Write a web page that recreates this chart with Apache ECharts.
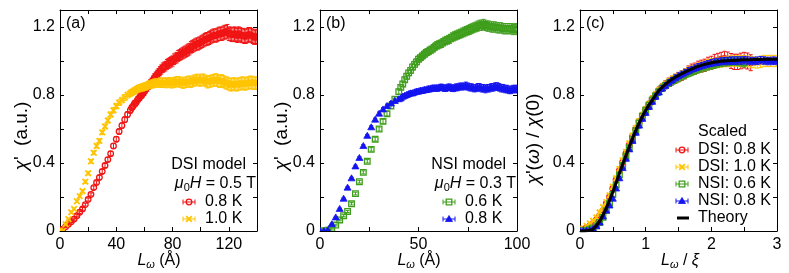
<!DOCTYPE html>
<html><head><meta charset="utf-8">
<script src="https://cdn.jsdelivr.net/npm/echarts@6/dist/echarts.min.js"></script>
<style>html,body{margin:0;padding:0;background:#fff}#c{width:789px;height:273px}</style>
</head><body><div id="c"></div>
<script>
// ---------- Panel (a): DSI model, mu0H = 0.5 T ----------
const aX = [0,2,4,6,8,10,12,14,16,18,20,22,24,26,28,30,32,34,36,38,40,42,44,46,48,50,
  51,52,53,54,55,56,57,58,59,60,61,62,63,64,65,66,67,68,69,70,71,72,73,74,75,76,77,78,79,80,
  81,82,83,84,85,86,87,88,89,90,91,92,93,94,95,96,97,98,99,100,101,102,103,104,105,106,107,108,109,110,
  111,112,113,114,115,116,117,118,119,120,121,122,123,124,125,126,127,128,129,130,131,132,133,134,135,136,137,138,139,140];
const aRed = [0,0.01,0.025,0.04,0.055,0.07,0.09,0.11,0.13,0.155,0.185,0.215,0.255,0.285,0.315,0.35,0.385,0.42,0.455,0.50,0.54,0.585,0.62,0.655,0.685,0.71,
  0.725,0.735,0.75,0.755,0.77,0.78,0.79,0.80,0.81,0.82, 0.835,0.845,0.855,0.865,0.875,0.885,0.9,0.91,0.92,0.93,
  0.94,0.95,0.96,0.965,0.97,0.98,0.985,0.99,0.995,1.0, 1.01,1.015,1.02,1.03,1.035,1.04,1.045,1.05,1.055,1.06,
  1.065,1.07,1.08,1.085,1.09,1.095,1.1,1.1,1.105,1.11, 1.115,1.12,1.125,1.13,1.13,1.135,1.14,1.145,1.15,1.15,
  1.15,1.155,1.16,1.16,1.16,1.165,1.17,1.17,1.175,1.16, 1.16,1.155,1.155,1.16,1.155,1.15,1.16,1.155,1.15,1.15,
  1.145,1.145,1.15,1.155,1.155,1.15,1.145,1.14,1.14,1.145];
const aRedErr = [0,0.004,0.004,0.005,0.005,0.006,0.006,0.007,0.008,0.008,0.009,0.009,0.01,0.01,0.011,0.012,0.012,0.013,0.013,0.014,0.015,0.015,0.016,0.017,0.017,0.018,
  0.018,0.019,0.019,0.02,0.02,0.02,0.021,0.021,0.022,0.022, 0.022,0.023,0.023,0.024,0.024,0.025,0.025,0.025,0.026,0.026,
  0.027,0.027,0.028,0.028,0.028,0.029,0.029,0.03,0.03,0.03, 0.031,0.031,0.031,0.032,0.032,0.032,0.033,0.033,0.033,0.034,
  0.034,0.034,0.034,0.035,0.035,0.035,0.035,0.036,0.036,0.036, 0.036,0.037,0.037,0.037,0.037,0.038,0.038,0.038,0.038,0.038,
  0.039,0.039,0.039,0.039,0.039,0.04,0.04,0.04,0.04,0.04, 0.04,0.04,0.041,0.041,0.041,0.041,0.041,0.041,0.042,0.042,
  0.042,0.042,0.042,0.042,0.042,0.042,0.042,0.042,0.042,0.042];
const aYel = [0,0,0.04,0.07,0.11,0.13,0.175,0.205,0.235,0.29,0.34,0.41,0.46,0.50,0.53,0.58,0.615,0.65,0.685,0.71,0.735,0.755,0.77,0.785,0.80,0.81,
  0.815,0.82,0.825,0.83,0.835,0.84,0.84,0.845,0.845,0.85, 0.85,0.855,0.86,0.86,0.865,0.865,0.87,0.87,0.87,0.87,
  0.875,0.87,0.87,0.875,0.87,0.87,0.875,0.875,0.87,0.87, 0.875,0.875,0.88,0.88,0.875,0.875,0.87,0.87,0.875,0.875,
  0.88,0.88,0.875,0.88,0.885,0.885,0.89,0.89,0.885,0.885, 0.89,0.89,0.885,0.88,0.875,0.88,0.88,0.885,0.885,0.89,
  0.89,0.885,0.88,0.88,0.885,0.88,0.875,0.87,0.87,0.865, 0.86,0.86,0.865,0.865,0.86,0.86,0.865,0.865,0.87,0.87,
  0.865,0.865,0.87,0.87,0.875,0.875,0.87,0.87,0.87,0.87];
const aYelErr = [0,0.003,0.004,0.005,0.006,0.006,0.007,0.008,0.008,0.009,0.01,0.011,0.011,0.012,0.013,0.013,0.014,0.015,0.015,0.016,0.016,0.017,0.017,0.018,0.018,0.019,
  0.019,0.019,0.02,0.02,0.02,0.021,0.021,0.021,0.022,0.022, 0.022,0.023,0.023,0.023,0.024,0.024,0.024,0.025,0.025,0.025,
  0.026,0.026,0.026,0.027,0.027,0.027,0.028,0.028,0.028,0.028, 0.029,0.029,0.029,0.029,0.03,0.03,0.03,0.03,0.031,0.031,
  0.031,0.031,0.031,0.032,0.032,0.032,0.032,0.032,0.033,0.033, 0.033,0.033,0.033,0.033,0.034,0.034,0.034,0.034,0.034,0.034,
  0.035,0.035,0.035,0.035,0.035,0.035,0.035,0.035,0.036,0.036, 0.036,0.036,0.036,0.036,0.036,0.036,0.036,0.036,0.036,0.036,
  0.036,0.036,0.036,0.036,0.036,0.036,0.036,0.036,0.036,0.036];

// ---------- Panel (b): NSI model, mu0H = 0.3 T ----------
const bX = [0,2,4,6,8,10,12,14,16,18,20,22,24,26,28,30,32,34,36,38,40,
  41,42,43,44,45,46,47,48,49,50,51,52,53,54,55,56,57,58,59,60,61,62,63,64,65,66,67,68,69,70,
  71,72,73,74,75,76,77,78,79,80,81,82,83,84,85,86,87,88,89,90,91,92,93,94,95,96,97,98,99,100];
const bGrn = [0,0,0.005,0.015,0.035,0.065,0.09,0.115,0.16,0.22,0.29,0.345,0.41,0.48,0.54,0.60,0.645,0.69,0.735,0.775,0.82,
  0.845,0.865,0.89,0.91,0.93,0.945,0.965,0.98,0.995,1.01, 1.02,1.03,1.04,1.05,1.055,1.065,1.07,1.08,1.09,1.095,
  1.1,1.105,1.115,1.12,1.125,1.13,1.14,1.145,1.15,1.155, 1.16,1.165,1.17,1.175,1.18,1.185,1.19,1.195,1.2,1.205,
  1.21,1.21,1.215,1.21,1.205,1.205,1.2,1.2,1.2,1.195, 1.195,1.195,1.19,1.19,1.19,1.19,1.19,1.185,1.19,1.185];
const bGrnErr = [0,0.003,0.004,0.004,0.005,0.005,0.006,0.006,0.007,0.008,0.008,0.009,0.01,0.01,0.011,0.012,0.012,0.013,0.014,0.014,0.015,
  0.015,0.016,0.016,0.017,0.017,0.018,0.018,0.019,0.019,0.02, 0.02,0.021,0.021,0.022,0.022,0.022,0.023,0.023,0.024,0.024,
  0.024,0.025,0.025,0.025,0.026,0.026,0.026,0.027,0.027,0.027, 0.027,0.028,0.028,0.028,0.028,0.029,0.029,0.029,0.029,0.03,
  0.03,0.03,0.03,0.03,0.03,0.03,0.03,0.03,0.03,0.03, 0.03,0.03,0.03,0.03,0.03,0.03,0.03,0.03,0.03,0.03];
const bBlu = [0,0,0.005,0.04,0.08,0.13,0.19,0.255,0.31,0.38,0.43,0.50,0.56,0.61,0.655,0.69,0.715,0.735,0.75,0.765,0.775,
  0.78,0.79,0.795,0.80,0.805,0.81,0.81,0.815,0.82,0.82, 0.825,0.825,0.83,0.83,0.835,0.835,0.84,0.84,0.84,0.84,
  0.845,0.845,0.84,0.84,0.845,0.845,0.84,0.84,0.845,0.845, 0.85,0.85,0.85,0.855,0.85,0.845,0.845,0.84,0.84,0.845,
  0.845,0.84,0.84,0.835,0.84,0.84,0.845,0.845,0.85,0.85, 0.845,0.84,0.84,0.835,0.835,0.83,0.83,0.835,0.835,0.835];
const bBluErr = [0,0.003,0.003,0.004,0.004,0.005,0.005,0.006,0.006,0.007,0.007,0.008,0.008,0.009,0.009,0.01,0.01,0.011,0.011,0.012,0.012,
  0.012,0.013,0.013,0.013,0.014,0.014,0.014,0.015,0.015,0.015, 0.016,0.016,0.016,0.016,0.017,0.017,0.017,0.017,0.018,0.018,
  0.018,0.018,0.019,0.019,0.019,0.019,0.019,0.02,0.02,0.02, 0.02,0.02,0.02,0.021,0.021,0.021,0.021,0.021,0.021,0.022,
  0.022,0.022,0.022,0.022,0.022,0.022,0.022,0.022,0.022,0.022, 0.022,0.022,0.022,0.022,0.022,0.022,0.022,0.022,0.022,0.022];

// ---------- Panel (c): scaled data + theory ----------
const cX = [0,0.05,0.1,0.15,0.2,0.25,0.3,0.35,0.4,0.45,0.5,0.55,0.6,0.65,0.7,0.75,0.8,0.85,0.9,0.95,
  1.0,1.05,1.1,1.15,1.2,1.25,1.3,1.35,1.4,1.45,1.5,1.55,1.6,1.65,1.7,1.75,1.8,1.85,1.9,1.95,
  2.0,2.05,2.1,2.15,2.2,2.25,2.3,2.35,2.4,2.45,2.5,2.55,2.6,2.65,2.7,2.75,2.8,2.85,2.9,2.95,3.0];
const cRed = [0,0.01,0.02,0.03,0.045,0.065,0.09,0.12,0.16,0.2, 0.25,0.3,0.355,0.405,0.455,0.505,0.555,0.6,0.645,0.68,
  0.715,0.745,0.775,0.8,0.825,0.845,0.86,0.875,0.885,0.895, 0.905,0.915,0.925,0.94,0.95,0.955,0.965,0.97,0.975,0.985,
  0.99,1.0,1.005,1.01,1.015,1.01,1.0,0.995,0.995,1.0, 1.005,1.0,0.99,null,null,null,null,null,null,null,null];
const cRedErr = [0,0.003,0.004,0.005,0.006,0.007,0.008,0.009,0.01,0.011, 0.012,0.012,0.013,0.014,0.014,0.015,0.016,0.016,0.017,0.018,
  0.018,0.019,0.02,0.021,0.022,0.023,0.024,0.025,0.026,0.027, 0.028,0.029,0.03,0.031,0.032,0.033,0.034,0.035,0.036,0.037,
  0.038,0.039,0.04,0.041,0.042,0.043,0.044,0.045,0.045,0.046, 0.046,0.047,0.047,null,null,null,null,null,null,null,null];
const cYel = [0,0.015,0.03,0.045,0.06,0.08,0.11,0.14,0.17,0.21, 0.26,0.31,0.365,0.415,0.465,0.515,0.56,0.605,0.645,0.68,
  0.715,0.745,0.775,0.8,0.825,0.845,0.86,0.875,0.89,0.9, 0.91,0.92,0.93,0.94,0.948,0.955,0.962,0.968,0.975,0.98,
  0.985,0.988,0.99,0.993,0.995,0.998,1.0,1.0,1.0,1.0, 1.0,0.998,0.995,0.992,0.99,0.995,1.0,1.0,1.0,1.0, 1.0];
const cYelErr = [0,0.003,0.004,0.005,0.006,0.007,0.008,0.009,0.01,0.011, 0.012,0.013,0.013,0.014,0.015,0.015,0.016,0.017,0.017,0.018,
  0.018,0.019,0.019,0.02,0.02,0.021,0.021,0.022,0.022,0.023, 0.023,0.024,0.024,0.025,0.025,0.026,0.026,0.027,0.027,0.028,
  0.028,0.028,0.029,0.029,0.029,0.03,0.03,0.03,0.031,0.031, 0.031,0.032,0.032,0.032,0.032,0.033,0.033,0.033,0.033,0.033, 0.033];
const cGrn = [0,0.002,0.005,0.01,0.018,0.03,0.05,0.08,0.12,0.165, 0.215,0.27,0.33,0.385,0.44,0.49,0.54,0.59,0.635,0.675,
  0.71,0.74,0.77,0.795,0.82,0.84,0.855,0.868,0.88,0.89, 0.9,0.91,0.92,0.928,0.936,0.944,0.952,0.958,0.964,0.97,
  0.975,0.98,0.985,0.99,0.993,0.996,0.998,1.0,0.998,0.995, 0.99,null,null,null,null,null,null,null,null,null,null];
const cGrnErr = [0,0.002,0.003,0.004,0.005,0.006,0.007,0.008,0.009,0.01, 0.011,0.011,0.012,0.012,0.013,0.013,0.014,0.014,0.015,0.015,
  0.016,0.016,0.017,0.017,0.018,0.018,0.019,0.019,0.02,0.02, 0.02,0.021,0.021,0.021,0.022,0.022,0.022,0.023,0.023,0.023,
  0.023,0.024,0.024,0.024,0.024,0.025,0.025,0.025,0.025,0.025, 0.025,null,null,null,null,null,null,null,null,null,null];
const cBlu = [0,0,0.002,0.005,0.012,0.028,0.05,0.085,0.12,0.15, 0.19,0.25,0.31,0.37,0.425,0.48,0.53,0.578,0.62,0.66,
  0.695,0.73,0.76,0.79,0.815,0.838,0.855,0.872,0.886,0.9, 0.912,0.922,0.932,0.942,0.95,0.958,0.965,0.972,0.978,0.983,
  0.988,0.992,0.995,0.998,1.0,1.0,1.002,1.002,1.003,1.003, 1.005,1.003,1.0,1.0,1.002,1.005,1.003,1.0,1.0,1.002, 1.0];
const cBluErr = [0,0.002,0.003,0.004,0.005,0.006,0.007,0.007,0.008,0.009, 0.01,0.01,0.011,0.011,0.012,0.012,0.013,0.013,0.014,0.014,
  0.015,0.015,0.015,0.016,0.016,0.016,0.017,0.017,0.017,0.018, 0.018,0.018,0.019,0.019,0.019,0.019,0.02,0.02,0.02,0.02,
  0.021,0.021,0.021,0.021,0.021,0.022,0.022,0.022,0.022,0.022, 0.022,0.022,0.022,0.022,0.022,0.022,0.022,0.022,0.022,0.022, 0.022];
const thX = [0,0.1,0.2,0.3,0.4,0.5,0.6,0.7,0.8,0.9,1.0,1.1,1.2,1.3,1.4,1.5,1.6,1.7,1.8,1.9,2.0,2.1,2.2,2.3,2.4,2.5,2.6,2.7,2.8,2.9,3.0];
const thY = [0,0.001,0.012,0.058,0.135,0.23,0.34,0.444,0.545,0.635,0.71,0.77,0.825,0.862,0.892,0.915,0.935,0.952,0.968,0.98,0.99,0.996,1.0,1.003,1.005,1.007,1.008,1.009,1.01,1.01,1.01];

// ---------- tick labels ----------
const yTickLabels = ['0','0.4','0.8','1.2'];
const aTickLabels = ['0','40','80','120'];
const bTickLabels = ['0','50','100'];
const cTickLabels = ['0','1','2','3'];

// ---------- styling ----------
const FONT = 'Liberation Sans';
const FS = 16;
const RED = '#f01414', YEL = '#ffc400', GRN = '#3f9e1c', BLU = '#1414f0';

function rt(extra){ return Object.assign({fontFamily:FONT, fontSize:FS, fill:'#000', color:'#000', lineHeight:19}, extra); }
const rich = {
  n: rt({}),
  i: rt({fontStyle:'italic'}),
  s: rt({fontSize:11, verticalAlign:'bottom', lineHeight:11}),
  si: rt({fontSize:11, fontStyle:'italic', verticalAlign:'bottom', lineHeight:11}),
  N: rt({fontSize:19, lineHeight:22}),
  I: rt({fontSize:19, lineHeight:22, fontStyle:'italic'})
};

function markerEls(kind, cx, cy, color){
  const s = {stroke:color, lineWidth:1.3, fill:'none'};
  const r = 2.8;
  if (kind==='circle') return [{type:'circle', shape:{cx, cy, r}, style:s}];
  if (kind==='cross') return [
    {type:'line', shape:{x1:cx-r,y1:cy-r,x2:cx+r,y2:cy+r}, style:{stroke:color,lineWidth:1.8}},
    {type:'line', shape:{x1:cx-r,y1:cy+r,x2:cx+r,y2:cy-r}, style:{stroke:color,lineWidth:1.8}}];
  if (kind==='square') return [{type:'rect', shape:{x:cx-r,y:cy-r,width:2*r,height:2*r}, style:s}];
  if (kind==='tri') return [{type:'polygon', shape:{points:[[cx,cy-3.5],[cx-3.5,cy+2.5],[cx+3.5,cy+2.5]]}, style:{fill:color, stroke:color, lineWidth:0.8}}];
  return [];
}

function errSeries(name, ai, xs, ys, es, color, kind){
  const data = [];
  xs.forEach((x,i)=>{ if (ys[i]!=null) data.push([x, ys[i], es[i]]); });
  return {
    type:'custom', name, xAxisIndex:ai, yAxisIndex:ai, data, clip:true,
    encode:{x:0, y:1},
    renderItem(params, api){
      const x = api.value(0), y = api.value(1), e = api.value(2);
      const p = api.coord([x,y]);
      const t = api.coord([x,y+e]);
      const b = api.coord([x,y-e]);
      const ls = {stroke:color, lineWidth:1};
      const children = [
        {type:'line', shape:{x1:p[0],y1:t[1],x2:p[0],y2:b[1]}, style:ls},
        {type:'line', shape:{x1:p[0]-2,y1:t[1],x2:p[0]+2,y2:t[1]}, style:ls},
        {type:'line', shape:{x1:p[0]-2,y1:b[1],x2:p[0]+2,y2:b[1]}, style:ls}
      ].concat(markerEls(kind, p[0], p[1], color));
      return {type:'group', children};
    }
  };
}

const grids = [
  {left:60, top:10, width:197, height:221},
  {left:320, top:10, width:197, height:221},
  {left:580, top:10, width:197, height:221}
].map(g=>Object.assign(g,{containLabel:false, outerBoundsMode:'none'}));

const axLine = {show:true, onZero:false, lineStyle:{color:'#000', width:1}};
const axTick = {show:true, inside:true, length:4, lineStyle:{color:'#000', width:1}};
const lblBase = {color:'#000', fontFamily:FONT, fontSize:FS, showMinLabel:true, showMaxLabel:true, hideOverlap:false};

function pick(labels){ return v => { const s = String(Math.round(v*1000)/1000); return labels.indexOf(s)>=0 ? s : ''; }; }

function xPair(gi, max, interval, labels){
  return [
    {gridIndex:gi, type:'value', min:0, max, interval, position:'bottom', axisLine:axLine, axisTick:axTick, splitLine:{show:false},
     axisLabel:Object.assign({margin:6, formatter:pick(labels)}, lblBase)},
    {gridIndex:gi, type:'value', min:0, max, interval, position:'top', axisLine:axLine, axisTick:axTick, splitLine:{show:false}, axisLabel:{show:false}}
  ];
}
function yPair(gi){
  return [
    {gridIndex:gi, type:'value', min:0, max:1.3, interval:0.2, position:'left', axisLine:axLine, axisTick:axTick, splitLine:{show:false},
     axisLabel:Object.assign({margin:5, formatter:pick(yTickLabels)}, lblBase)},
    {gridIndex:gi, type:'value', min:0, max:1.3, interval:0.2, position:'right', axisLine:axLine, axisTick:axTick, splitLine:{show:false}, axisLabel:{show:false}}
  ];
}

const xAxes = [].concat(xPair(0,140,20,aTickLabels), xPair(1,100,25,bTickLabels), xPair(2,3,0.5,cTickLabels));
const yAxes = [].concat(yPair(0), yPair(1), yPair(2));

const series = [
  errSeries('DSI 0.8 K', 0, aX, aRed, aRedErr, RED, 'circle'),
  errSeries('DSI 1.0 K', 0, aX, aYel, aYelErr, YEL, 'cross'),
  errSeries('NSI 0.6 K', 2, bX, bGrn, bGrnErr, GRN, 'square'),
  errSeries('NSI 0.8 K', 2, bX, bBlu, bBluErr, BLU, 'tri'),
  errSeries('DSI: 0.8 K', 4, cX, cRed, cRedErr, RED, 'circle'),
  errSeries('DSI: 1.0 K', 4, cX, cYel, cYelErr, YEL, 'cross'),
  errSeries('NSI: 0.6 K', 4, cX, cGrn, cGrnErr, GRN, 'square'),
  errSeries('NSI: 0.8 K', 4, cX, cBlu, cBluErr, BLU, 'tri'),
  {type:'line', name:'Theory', xAxisIndex:4, yAxisIndex:4, data:thX.map((x,i)=>[x,thY[i]]), smooth:0.3, symbol:'none',
   lineStyle:{color:'#000', width:3}, z:10, silent:true}
];

// ---------- graphic texts and legend samples ----------
function txt(x, y, text, align, rot){
  return {type:'text', x, y, rotation:rot||0, z:100, silent:true,
    style:{text, rich, fontFamily:FONT, fontSize:FS, fill:'#000', align, textAlign:align, verticalAlign:'middle', textVerticalAlign:'middle'}};
}
function icon(kind, cx, cy, color){
  const ls = {stroke:color, lineWidth:1};
  const els = [
    {type:'line', shape:{x1:cx-6,y1:cy,x2:cx+6,y2:cy}, style:ls},
    {type:'line', shape:{x1:cx-6,y1:cy-2.5,x2:cx-6,y2:cy+2.5}, style:ls},
    {type:'line', shape:{x1:cx+6,y1:cy-2.5,x2:cx+6,y2:cy+2.5}, style:ls}
  ].concat(markerEls(kind, cx, cy, color));
  return {type:'group', silent:true, z:100, children:els};
}

const yName = '{I|χ}{N|\'  (a.u.)}';
const xName = '{i|L}{si|ω}{n| (Å)}';
const graphic = [
  txt(66, 24, '{n|(a)}', 'left'),
  txt(326, 24, '{n|(b)}', 'left'),
  txt(586, 24, '{n|(c)}', 'left'),
  txt(22, 136, yName, 'center', Math.PI/2),
  txt(282, 136, yName, 'center', Math.PI/2),
  txt(534, 139, '{I|χ}{N|\'(}{I|ω}{N|) / }{I|χ}{N|(0)}', 'center', Math.PI/2),
  txt(159, 261, xName, 'center'),
  txt(419, 261, xName, 'center'),
  txt(680, 261, '{i|L}{si|ω}{n| / }{i|ξ}', 'center'),
  // legend (a)
  txt(246, 165, '{n|DSI model}', 'right'),
  txt(256, 184, '{i|μ}{s|0}{i|H}{n| = 0.5 T}', 'right'),
  icon('circle', 189, 202, RED), txt(205, 202, '{n|0.8 K}', 'left'),
  icon('cross', 189, 219, YEL), txt(205, 219, '{n|1.0 K}', 'left'),
  // legend (b)
  txt(506, 165, '{n|NSI model}', 'right'),
  txt(516, 184, '{i|μ}{s|0}{i|H}{n| = 0.3 T}', 'right'),
  icon('square', 449, 202, GRN), txt(465, 202, '{n|0.6 K}', 'left'),
  icon('tri', 449, 219, BLU), txt(465, 219, '{n|0.8 K}', 'left'),
  // legend (c)
  txt(698, 132, '{n|Scaled}', 'left'),
  icon('circle', 682, 150, RED), txt(698, 150, '{n|DSI: 0.8 K}', 'left'),
  icon('cross', 682, 167, YEL), txt(698, 167, '{n|DSI: 1.0 K}', 'left'),
  icon('square', 682, 184, GRN), txt(698, 184, '{n|NSI: 0.6 K}', 'left'),
  icon('tri', 682, 201, BLU), txt(698, 201, '{n|NSI: 0.8 K}', 'left'),
  {type:'line', z:100, silent:true, shape:{x1:677,y1:218,x2:689,y2:218}, style:{stroke:'#000', lineWidth:3}},
  txt(698, 218, '{n|Theory}', 'left')
];

const chart = echarts.init(document.getElementById('c'), null, {renderer:'canvas'});
chart.setOption({
  animation:false,
  backgroundColor:'#fff',
  grid:grids,
  xAxis:xAxes,
  yAxis:yAxes,
  series,
  graphic
});
</script>
</body></html>
